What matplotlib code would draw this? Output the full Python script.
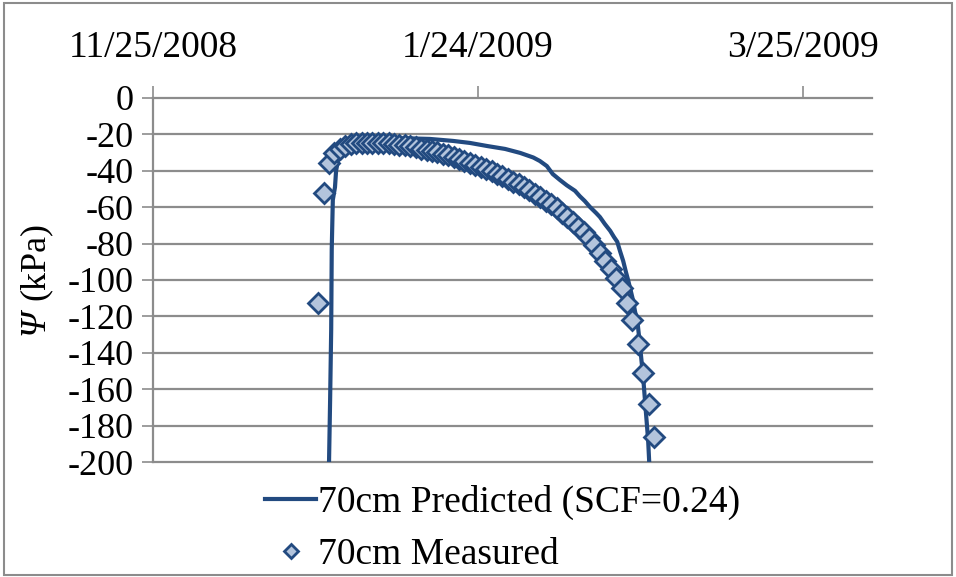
import datetime
import matplotlib
matplotlib.use("Agg")
import matplotlib.pyplot as plt
import matplotlib.dates as mdates
from matplotlib.ticker import FuncFormatter
from matplotlib.patches import Rectangle

plt.rcParams['font.family'] = ['Liberation Serif', 'DejaVu Serif']
plt.rcParams['axes.unicode_minus'] = False

start = datetime.datetime(2008, 11, 25)

# measured suction at 70 cm (days after 11/25/2008, kPa)
meas_day = [30.5 + i for i in range(63)]
meas_psi = [-112.6, -52, -36, -30.5, -28, -26.5, -25.5, -25, -24.7, -24.5,
            -24.5, -24.6, -24.8, -25, -25.3, -25.7, -26.1, -26.6, -27.2, -27.8,
            -28.4, -29.1, -29.8, -30.6, -31.5, -32.4, -33.4, -34.4, -35.5, -36.6,
            -37.8, -39.0, -40.3, -41.6, -43.0, -44.4, -45.9, -47.4, -49.0, -50.7,
            -52.5, -54.4, -56.4, -58.5, -60.7, -63.0, -65.4, -68.0, -70.8, -73.8,
            -77.2, -81.0, -85.0, -89.5, -94.0, -99.0, -104.5, -112.5, -122, -135,
            -151, -168, -186]

# model output (SCF = 0.24)
pred_day = [32.5, 32.7, 32.9, 33.0, 33.2, 33.6, 33.8, 34.3, 35.1, 35.8,
            37.3, 38.8, 41.0, 43.8, 47.4, 51.1, 55.4, 58.5, 61.7, 65.0,
            67.8, 70.2, 71.4, 72.7, 73.8, 75.1, 76.4, 77.9, 78.8, 79.7,
            80.7, 81.8, 82.5, 83.4, 84.4, 85.1, 85.7, 86.2, 86.8, 87.3,
            87.7, 88.2, 88.6, 89.0, 89.4, 89.9, 90.5, 91.0, 91.4, 91.6]
pred_psi = [-200, -166, -127, -83, -56, -49, -40, -32, -28.5, -26.5,
            -24.7, -23.6, -22.8, -22.2, -22.2, -22.5, -23.6, -24.7, -26.4, -28,
            -30.2, -32.7, -34.6, -37.4, -41.8, -45, -48, -51, -54, -56.6,
            -60, -63.2, -65.4, -69.2, -73, -76.4, -79, -84, -89.6, -95.6,
            -100, -106, -111, -117.6, -122, -136, -154, -173, -188, -200]

tick_dates = [datetime.datetime(2008, 11, 25), datetime.datetime(2009, 1, 24),
              datetime.datetime(2009, 3, 25)]

meas_x = [start + datetime.timedelta(days=d) for d in meas_day]
pred_x = [start + datetime.timedelta(days=d) for d in pred_day]

blue = '#224a80'
grid = '#8c8c8c'

fig = plt.figure(figsize=(9.56, 5.77), dpi=100)
ax = fig.add_axes([0.160, 0.1993, 0.752, 0.6309])

for v in range(-20, -201, -20):
    ax.axhline(v, color=grid, lw=1.6, zorder=0, clip_on=False)

ax.plot(pred_x, pred_psi, color=blue, lw=3, zorder=3,
        label='70cm Predicted (SCF=0.24)')
ax.plot(meas_x, meas_psi, ls='none', marker='D', ms=10, mfc='#b3c4dc',
        mec=blue, mew=2, zorder=4, label='70cm Measured')

ax.set_xlim(start, start + datetime.timedelta(days=132.7))
ax.set_ylim(-200, 0)
ax.set_yticks(range(0, -201, -20))
ax.set_xticks(tick_dates)
ax.xaxis.set_major_formatter(FuncFormatter(
    lambda v, p: '{d.month}/{d.day}/{d.year}'.format(d=mdates.num2date(v))))

ax.xaxis.tick_top()
ax.tick_params(axis='x', direction='out', length=9, width=1.2, color=grid,
               labelsize=27, pad=15)
ax.tick_params(axis='y', direction='out', length=8, width=1.2, color=grid,
               labelsize=26, pad=6)

for s in ['right', 'bottom']:
    ax.spines[s].set_visible(False)
for s in ['top', 'left']:
    ax.spines[s].set_color(grid)
    ax.spines[s].set_linewidth(1.6)

# y label: italic psi followed by the unit
fig.text(0.037, 0.441, 'Ψ', rotation=90, fontsize=26, style='italic',
         ha='center', va='center')
fig.text(0.037, 0.548, '(kPa)', rotation=90, fontsize=26,
         ha='center', va='center')

leg = fig.legend(loc='upper left', bbox_to_anchor=(0.262, 0.185), frameon=False,
                 fontsize=27, handlelength=1.35, handletextpad=0.05, labelspacing=0.45,
                 borderaxespad=0, markerscale=0.7)

fig.patches.append(Rectangle((0.004, 0.004), 0.992, 0.990, transform=fig.transFigure,
                             fill=False, edgecolor='#8c8c8c', lw=1.5))

fig.savefig('out.png', dpi=100)
